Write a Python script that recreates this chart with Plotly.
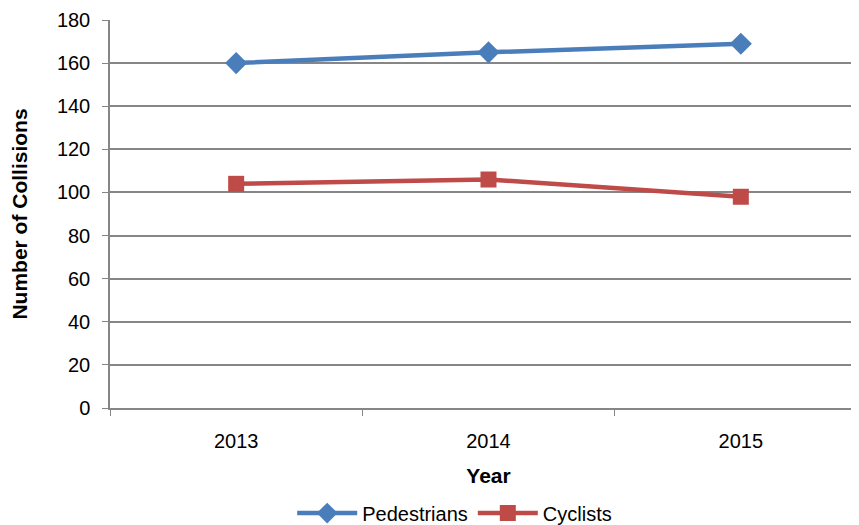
import plotly.graph_objects as go

years = ["2013", "2014", "2015"]
pedestrians = [160, 165, 169]
cyclists = [104, 106, 98]

font = "Liberation Sans, Arial, sans-serif"
grey = "#868686"

fig = go.Figure()
fig.add_trace(go.Scatter(
    x=years, y=pedestrians, name="Pedestrians", mode="lines+markers",
    line=dict(color="#4A7EBB", width=4.5),
    marker=dict(symbol="diamond", size=17, color="#4A7EBB"),
))
fig.add_trace(go.Scatter(
    x=years, y=cyclists, name="Cyclists", mode="lines+markers",
    line=dict(color="#BE4B48", width=4.5),
    marker=dict(symbol="square", size=16, color="#BE4B48"),
))

# page body has an 8px margin, so the figure is offset by 8px
fig.update_layout(
    width=859, height=525,
    margin=dict(l=102, r=0, t=12, b=125, autoexpand=False),
    paper_bgcolor="white", plot_bgcolor="white",
    font=dict(family=font, size=20, color="black"),
    showlegend=True,
    legend=dict(orientation="h", xref="container", x=0.52, xanchor="center",
                yref="container", y=0.038, yanchor="middle",
                font=dict(size=20), itemwidth=60),
)
fig.update_xaxes(
    type="category", range=[-0.5, 2.5], automargin=False,
    tickson="boundaries", ticks="outside", ticklen=6, tickcolor=grey,
    showline=True, linecolor=grey, linewidth=1.5,
    showgrid=False, tickfont=dict(size=20), ticklabelstandoff=14,
    title=dict(text="<b>Year</b>", font=dict(size=21), standoff=18),
)
fig.update_yaxes(
    range=[0, 180], dtick=20, automargin=False,
    ticks="outside", ticklen=6, tickcolor=grey,
    showline=True, linecolor=grey, linewidth=1.5,
    showgrid=True, gridcolor=grey, gridwidth=1.5,
    zeroline=False, tickfont=dict(size=20), ticklabelstandoff=8,
    title=dict(text="<b>Number of Collisions</b>", font=dict(size=21), standoff=30),
)

fig.write_html("out.html")
